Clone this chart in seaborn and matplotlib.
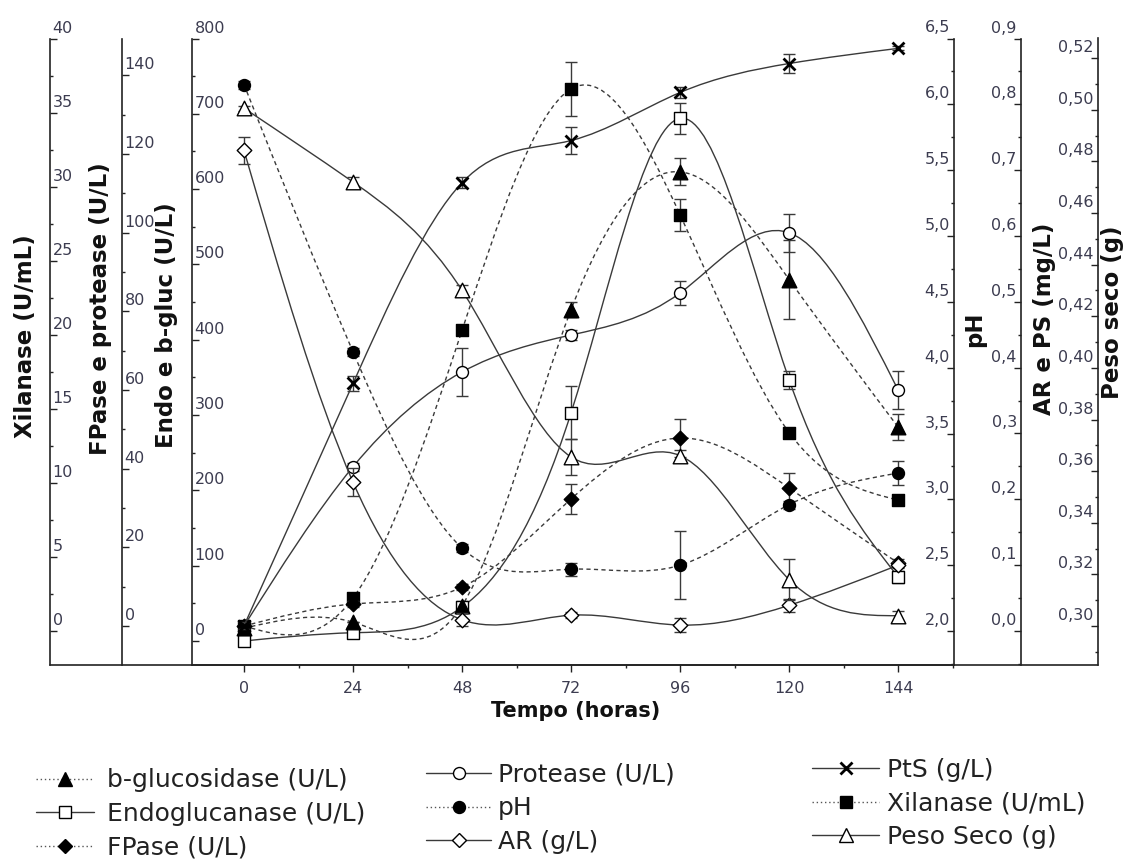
import numpy as np
import pandas as pd
import seaborn as sns
import matplotlib
matplotlib.use("Agg")
import matplotlib.pyplot as plt
from matplotlib.path import Path
from matplotlib.patches import PathPatch
from matplotlib.lines import Line2D
import matplotlib.transforms as mtransforms
from matplotlib.ticker import MultipleLocator, FuncFormatter

sns.set_style("ticks")
plt.rcParams["font.family"] = ["DejaVu Sans"]

# ---------------- data ----------------
tempo = [0, 24, 48, 72, 96, 120, 144]

bgluc = [17, 25, 47, 440, 623, 480, 284]
bgluc_err = [0, 0, 0, 10, 18, 52, 17]
endo = [0, 11, 45, 303, 694, 347, 85]
endo_err = [3, 4, 8, 35, 21, 12, 8]
fpase = [0, 5.6, 9.9, 32.3, 47.8, 35.1, 16]
fpase_err = [0, 0.8, 0.8, 3.8, 4.8, 3.8, 1]
protease = [0, 40.5, 64.6, 74, 84.7, 100, 60]
protease_err = [0, 1, 6, 1.3, 3, 4.8, 4.8]
ph = [6.15, 4.12, 2.63, 2.47, 2.50, 2.96, 3.20]
ph_err = [0.03, 0.03, 0.03, 0.05, 0.26, 0.03, 0.09]
ar = [0.73, 0.226, 0.017, 0.024, 0.009, 0.039, 0.100]
ar_err = [0.02, 0.021, 0.01, 0.005, 0.01, 0.01, 0.005]
pts = [0.008, 0.376, 0.681, 0.745, 0.818, 0.862, 0.885]
pts_err = [0.005, 0.011, 0.008, 0.02, 0.009, 0.015, 0.003]
xilanase = [0.34, 2.23, 20.3, 36.6, 28.1, 13.4, 8.84]
xilanase_err = [0.3, 0.3, 0.3, 1.8, 1.08, 0.3, 0.3]
peso = [0.5006, 0.472, 0.430, 0.3655, 0.366, 0.318, 0.304]
peso_err = [0.001, 0.002, 0.002, 0.007, 0.002, 0.008, 0.002]

x_ticks = [0, 24, 48, 72, 96, 120, 144]

# ---------------- layout ----------------
W, H = 1130, 859
fig = plt.figure(figsize=(W / 100, H / 100), dpi=100)
fig.patch.set_facecolor("white")


def fx(px):
    return px / W


def fy(py):
    return 1 - py / H


L, R, T, B = 192, 954, 38.5, 664.5
span = R - L
ax = fig.add_axes([fx(L), fy(B), fx(R) - fx(L), fy(T) - fy(B)])
ax_xil = ax.twinx()
ax_fp = ax.twinx()
ax_ph = ax.twinx()
ax_ar = ax.twinx()
ax_peso = ax.twinx()

LINE = "#3a3a3a"
TXT = "#3c3c50"


def spline_path(x, y):
    x = np.asarray(x, float)
    y = np.asarray(y, float)
    n = len(x)
    h = np.diff(x)
    A = np.zeros((n, n))
    b = np.zeros(n)
    A[0, 0] = A[-1, -1] = 1
    for i in range(1, n - 1):
        A[i, i - 1] = h[i - 1]
        A[i, i] = 2 * (h[i - 1] + h[i])
        A[i, i + 1] = h[i]
        b[i] = 6 * ((y[i + 1] - y[i]) / h[i] - (y[i] - y[i - 1]) / h[i - 1])
    M = np.linalg.solve(A, b)
    d = np.empty(n)
    for i in range(n - 1):
        d[i] = (y[i + 1] - y[i]) / h[i] - h[i] * (2 * M[i] + M[i + 1]) / 6
    d[-1] = (y[-1] - y[-2]) / h[-1] + h[-1] * (M[-2] + 2 * M[-1]) / 6
    verts = [(x[0], y[0])]
    codes = [Path.MOVETO]
    for i in range(n - 1):
        verts += [(x[i] + h[i] / 3, y[i] + d[i] * h[i] / 3),
                  (x[i + 1] - h[i] / 3, y[i + 1] - d[i + 1] * h[i] / 3),
                  (x[i + 1], y[i + 1])]
        codes += [Path.CURVE4] * 3
    return Path(verts, codes)


DOT = (0, (3, 2.4))
MS = {"o": 8.6, "s": 8.4, "^": 10.5, "D": 7.4, "x": 8.6}


def series(a, y, err, marker, filled, dotted):
    ls = DOT if dotted else "-"
    a.add_patch(PathPatch(spline_path(tempo, y), facecolor="none", edgecolor=LINE,
                          lw=1.0, linestyle=ls, zorder=2))
    a.errorbar(tempo, y, yerr=err, fmt="none", ecolor=LINE, elinewidth=1,
               capsize=4, capthick=1, zorder=3)
    df = pd.DataFrame({"t": tempo, "v": y})
    ms = MS[marker]
    if marker == "x":
        sns.scatterplot(data=df, x="t", y="v", ax=a, marker="x", s=ms ** 2,
                        color="black", linewidth=2, zorder=4, legend=False)
    else:
        sns.scatterplot(data=df, x="t", y="v", ax=a, marker=marker, s=ms ** 2,
                        color="black" if filled else "white", edgecolor="black",
                        linewidth=1, zorder=4, legend=False)


series(ax, endo, endo_err, "s", False, False)
series(ax, bgluc, bgluc_err, "^", True, True)
series(ax_xil, xilanase, xilanase_err, "s", True, True)
series(ax_fp, protease, protease_err, "o", False, False)
series(ax_fp, fpase, fpase_err, "D", True, True)
series(ax_ph, ph, ph_err, "o", True, True)
series(ax_ar, ar, ar_err, "D", False, False)
series(ax_ar, pts, pts_err, "x", True, False)
series(ax_peso, peso, peso_err, "^", False, False)

# ---------------- spines ----------------
SPW = 1.2


def left_style(a, frac):
    for s in a.spines.values():
        s.set_visible(False)
    a.spines["right"].set_visible(True)
    a.spines["right"].set_position(("axes", frac))
    a.spines["right"].set_linewidth(SPW)
    a.spines["right"].set_color("#222222")
    a.yaxis.tick_right()
    a.yaxis.set_label_position("right")


def right_style(a, frac):
    for s in a.spines.values():
        s.set_visible(False)
    a.spines["left"].set_visible(True)
    a.spines["left"].set_position(("axes", frac))
    a.spines["left"].set_linewidth(SPW)
    a.spines["left"].set_color("#222222")
    a.yaxis.tick_left()
    a.yaxis.set_label_position("left")


left_style(ax, 0.0)
ax.spines["bottom"].set_visible(True)
ax.spines["bottom"].set_linewidth(SPW)
ax.spines["bottom"].set_color("#222222")
left_style(ax_xil, (50 - L) / span)
left_style(ax_fp, (122 - L) / span)
right_style(ax_ph, 1.0)
right_style(ax_ar, (1021 - L) / span)
right_style(ax_peso, (1098 - L) / span)

# ---------------- scales ----------------
ax.set_xlim(-11.45, 156.3)
ax.set_ylim(-31.2, 800)
ax_xil.set_ylim(-2.26, 40)
ax_fp.set_ylim(-9.79, 149.4)
ax_ph.set_ylim(1.746, 6.5)
ax_ar.set_ylim(-0.0509, 0.9)
ax_peso.set_ylim(0.2851, 0.5276)


def comma(dec):
    return FuncFormatter(lambda v, p: f"{v:.{dec}f}".replace(".", ","))


def intfmt():
    return FuncFormatter(lambda v, p: f"{v:.0f}")


cfg = [
    (ax, 100, 50, 0, 800, intfmt(), 'r'),
    (ax_xil, 5, 2.5, 0, 40, intfmt(), 'r'),
    (ax_fp, 20, 10, 0, 140, intfmt(), 'r'),
    (ax_ph, 0.5, 0.25, 2.0, 6.5, comma(1), 'l'),
    (ax_ar, 0.1, 0.05, 0.0, 0.9, comma(1), 'l'),
    (ax_peso, 0.02, 0.01, 0.30, 0.52, comma(2), 'l'),
]
for a, maj, mnr, lo, hi, fmt, side in cfg:
    a.set_yticks(np.round(np.arange(lo, hi + maj / 2, maj), 4))
    a.yaxis.set_minor_locator(MultipleLocator(mnr))
    a.yaxis.set_major_formatter(fmt)
    a.tick_params(axis="y", which="major", direction="out", length=5, width=1,
                  pad=-3.2 if side == 'r' else -2.0, labelsize=11.5,
                  labelcolor=TXT, color="#222222")
    a.tick_params(axis="y", which="minor", direction="out", length=2.5, width=1,
                  color="#222222")

ax.set_xticks(x_ticks)
ax.xaxis.set_minor_locator(MultipleLocator(12))
ax.tick_params(axis="x", which="major", direction="out", length=5, width=1, pad=7,
               labelsize=11.5, labelcolor=TXT, color="#222222")
ax.tick_params(axis="x", which="minor", direction="out", length=2.5, width=1,
               color="#222222")

# ---------------- labels ----------------
ax.set_xlabel("Tempo (horas)", fontsize=15, fontweight="bold", color="#111111")
ax.xaxis.set_label_coords((576 - L) / span, (B - 701) / (B - T))

ylabels = [
    (ax_xil, "Xilanase (U/mL)", 26, 336),
    (ax_fp, "FPase e protease (U/L)", 101, 309),
    (ax, "Endo e b-gluc (U/L)", 166, 325),
    (ax_ph, "pH", 975, 329),
    (ax_ar, "AR e PS (mg/L)", 1044, 319),
    (ax_peso, "Peso seco (g)", 1112, 312),
]
for a, txt, xc, yc in ylabels:
    a.set_ylabel(txt, fontsize=16.5, fontweight="bold", color="#111111", rotation=90)
    a.yaxis.set_label_coords((xc - L) / span, (B - yc) / (B - T))
    a.yaxis.label.set_va("center")
    a.yaxis.label.set_ha("center")
    a.yaxis.label.set_rotation_mode("anchor")

# bottom line linking all offset axes
fig.add_artist(Line2D([fx(50), fx(1098)], [fy(B), fy(B)], color="#222222", lw=SPW,
                      transform=fig.transFigure))

# tick labels sit a little above their ticks, as in the reference
offset = mtransforms.ScaledTranslation(0, 12 / 100, fig.dpi_scale_trans)
for a, *_ in cfg:
    for lab in a.get_yticklabels():
        lab.set_transform(lab.get_transform() + offset)

# ---------------- legends ----------------


def handle(marker, filled, dotted):
    return Line2D([], [], color="#555555" if dotted else LINE, lw=1,
                  ls=(0, (1, 2)) if dotted else "-", marker=marker,
                  markersize=MS[marker], markerfacecolor="black" if filled else "white",
                  markeredgecolor="black", markeredgewidth=2 if marker == "x" else 1)


cols = [
    (36, 768.4, 2.32, 0.52,
     [(handle("^", True, True), "b-glucosidase (U/L)"),
      (handle("s", False, False), "Endoglucanase (U/L)"),
      (handle("D", True, True), "FPase (U/L)")]),
    (426, 762.9, 2.6, 0.28,
     [(handle("o", False, False), "Protease (U/L)"),
      (handle("o", True, True), "pH"),
      (handle("D", False, False), "AR (g/L)")]),
    (812, 757.9, 2.68, 0.32,
     [(handle("x", True, False), "PtS (g/L)"),
      (handle("s", True, True), "Xilanase (U/mL)"),
      (handle("^", False, False), "Peso Seco (g)")]),
]
for x0, y0, hl, tp, items in cols:
    fig.legend([h for h, _ in items], [t for _, t in items], loc="upper left",
               bbox_to_anchor=(fx(x0), fy(y0)), bbox_transform=fig.transFigure,
               frameon=False, fontsize=18, handlelength=hl, handletextpad=tp,
               borderpad=0, borderaxespad=0, labelspacing=0.38, labelcolor="#222222")

fig.savefig("out.png", dpi=100, facecolor="white")
